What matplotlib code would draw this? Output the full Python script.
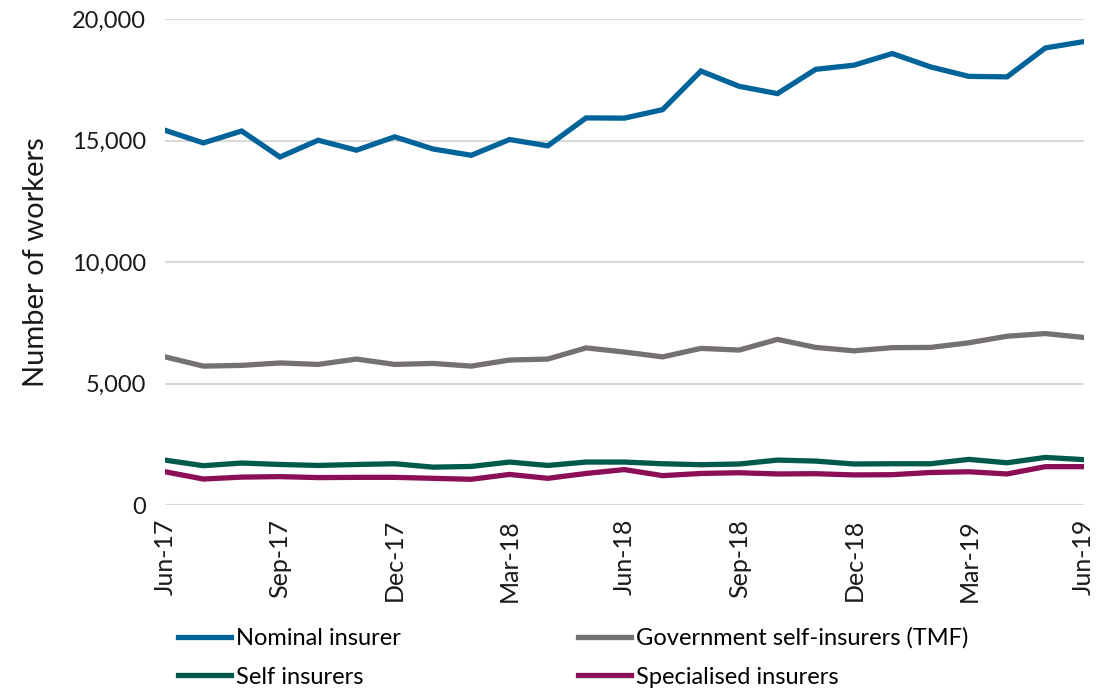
import numpy as np
import matplotlib.pyplot as plt

plt.rcParams['font.family'] = ['Lato', 'DejaVu Sans']

months = ['Jun-17', 'Jul-17', 'Aug-17', 'Sep-17', 'Oct-17', 'Nov-17', 'Dec-17',
          'Jan-18', 'Feb-18', 'Mar-18', 'Apr-18', 'May-18', 'Jun-18', 'Jul-18',
          'Aug-18', 'Sep-18', 'Oct-18', 'Nov-18', 'Dec-18', 'Jan-19', 'Feb-19',
          'Mar-19', 'Apr-19', 'May-19', 'Jun-19']

nominal = [15430, 14910, 15400, 14330, 15020, 14610, 15160, 14660, 14400, 15050,
           14790, 15940, 15930, 16280, 17870, 17240, 16940, 17940, 18110, 18590,
           18040, 17650, 17630, 18820, 19080]
gov_tmf = [6100, 5720, 5750, 5850, 5790, 6010, 5790, 5830, 5720, 5970,
           6010, 6470, 6300, 6100, 6450, 6380, 6820, 6490, 6350, 6480,
           6490, 6680, 6950, 7060, 6900]
self_ins = [1850, 1620, 1730, 1670, 1630, 1670, 1700, 1560, 1590, 1770,
            1630, 1770, 1770, 1700, 1660, 1690, 1850, 1810, 1690, 1700,
            1700, 1880, 1740, 1960, 1870]
specialised = [1370, 1070, 1150, 1170, 1130, 1140, 1140, 1100, 1060, 1260,
               1100, 1300, 1460, 1210, 1300, 1330, 1280, 1290, 1240, 1250,
               1340, 1370, 1280, 1580, 1580]

series = [
    ('Nominal insurer', nominal, '#00649B'),
    ('Government self-insurers (TMF)', gov_tmf, '#767171'),
    ('Self insurers', self_ins, '#005A4B'),
    ('Specialised insurers', specialised, '#8B0E57'),
]

fig = plt.figure(figsize=(11.08, 6.89), dpi=100)
ax = fig.add_axes([0.149, 0.267, 0.829, 0.705])

x = np.arange(len(months))
handles = {}
for name, vals, col in series:
    h, = ax.plot(x, vals, color=col, lw=3.8, label=name, solid_joinstyle='miter')
    handles[name] = h

ax.set_xlim(0, len(months) - 1)
ax.set_ylim(0, 20000)
ax.set_yticks(np.arange(0, 20001, 5000))
ax.set_yticklabels([f'{v:,}' for v in range(0, 20001, 5000)])
ax.set_xticks(x[::3])
ax.set_xticklabels(months[::3], rotation=90)
ax.grid(axis='y', color='#D9D9D9', lw=1.5)
ax.set_axisbelow(True)
for s in ax.spines.values():
    s.set_visible(False)
ax.tick_params(axis='y', length=0, labelsize=17, colors='#1A1A1A', pad=14)
ax.tick_params(axis='x', length=0, labelsize=18, colors='#1A1A1A', pad=10)
ax.set_ylabel('Number of workers', fontsize=21, color='#1A1A1A', labelpad=16)

# legend fills column-wise
order = ['Nominal insurer', 'Self insurers', 'Government self-insurers (TMF)',
         'Specialised insurers']
fig.legend([handles[n] for n in order], order, ncol=2, loc='upper left',
           bbox_to_anchor=(0.152, 0.103), frameon=False, fontsize=17,
           handlelength=2.25, handletextpad=0.2, columnspacing=7.5,
           labelspacing=0.75, borderaxespad=0)

fig.savefig('out.png', dpi=100)
